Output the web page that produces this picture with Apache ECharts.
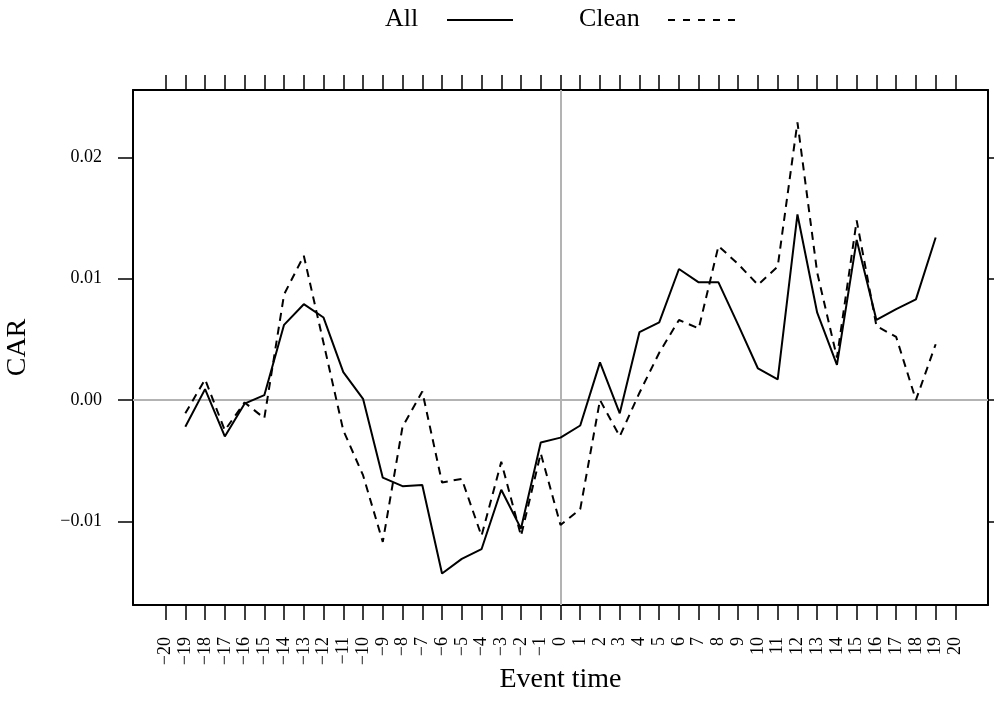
<!DOCTYPE html>
<html>
<head>
<meta charset="utf-8">
<script src="https://cdn.jsdelivr.net/npm/echarts@6/dist/echarts.min.js"></script>
<style>
  html, body { margin: 0; padding: 0; background: #ffffff; }
  #chart { width: 994px; height: 716px; }
</style>
</head>
<body>
<div id="chart"></div>
<script>
// Event window, in days relative to the event
const eventTime = [-19, -18, -17, -16, -15, -14, -13, -12, -11, -10,
  -9, -8, -7, -6, -5, -4, -3, -2, -1, 0,
  1, 2, 3, 4, 5, 6, 7, 8, 9, 10,
  11, 12, 13, 14, 15, 16, 17, 18, 19];

// Cumulative abnormal returns, full sample
const carAll = [-0.0022, 0.0009, -0.0030, -0.0003, 0.0004, 0.0062, 0.0079, 0.0068, 0.0023, 0.0001,
  -0.0064, -0.0071, -0.0070, -0.0143, -0.0131, -0.0123, -0.0074, -0.0106, -0.0035, -0.0031,
  -0.0021, 0.0031, -0.0011, 0.0056, 0.0064, 0.0108, 0.0097, 0.0097, 0.0062, 0.0026,
  0.0017, 0.0153, 0.0072, 0.0029, 0.0132, 0.0066, 0.0075, 0.0083, 0.0134];

// Cumulative abnormal returns, clean sample
const carClean = [-0.0011, 0.0017, -0.0025, -0.0002, -0.0015, 0.0087, 0.0119, 0.0047, -0.0025, -0.0062,
  -0.0117, -0.0022, 0.0007, -0.0068, -0.0065, -0.0112, -0.0051, -0.0112, -0.0044, -0.0103,
  -0.0090, 0.0000, -0.0030, 0.0006, 0.0039, 0.0066, 0.0059, 0.0127, 0.0112, 0.0095,
  0.0110, 0.0229, 0.0105, 0.0035, 0.0148, 0.0061, 0.0052, 0.0000, 0.0046];

// Tick positions
const xTicks = [];
for (let t = -20; t <= 20; t++) xTicks.push(t);
const yTicks = [-0.01, 0, 0.01, 0.02];

const seriesNames = ['All', 'Clean'];

const FONT = '"Liberation Serif", "Times New Roman", serif';
const INK = '#000000';
const REF = '#b3b3b3';

const chart = echarts.init(document.getElementById('chart'), null, { renderer: 'canvas' });

const pair = (xs, ys) => xs.map((x, i) => [x, ys[i]]);
const fmtY = v => (Math.abs(v) < 1e-12 ? 0 : v).toFixed(2).replace('-', '\u2212');
const fmtX = v => String(v).replace('-', '\u2212');

const xBase = {
  type: 'value',
  min: -21.65,
  max: 21.65,
  splitLine: { show: false },
  axisLine: { show: true, onZero: false, lineStyle: { color: INK, width: 2 } },
  axisTick: { show: true, inside: false, length: 15, customValues: xTicks, lineStyle: { color: INK, width: 1.5 } }
};
const yBase = {
  type: 'value',
  min: -0.0169,
  max: 0.02556,
  splitLine: { show: false },
  axisLine: { show: true, onZero: false, lineStyle: { color: INK, width: 2 } },
  axisTick: { show: true, inside: false, length: 15, customValues: yTicks, lineStyle: { color: INK, width: 1.5 } }
};

chart.setOption({
  animation: false,
  backgroundColor: '#ffffff',
  grid: { left: 133, right: 6, top: 90, bottom: 111, containLabel: false, outerBoundsMode: 'none' },
  xAxis: [
    Object.assign({}, xBase, {
      position: 'bottom',
      name: 'Event time',
      nameLocation: 'middle',
      nameGap: 61,
      nameMoveOverlap: false,
      nameTextStyle: { fontFamily: FONT, fontSize: 28, color: INK },
      axisLabel: {
        show: true, customValues: xTicks, rotate: 90, margin: 32,
        fontFamily: FONT, fontSize: 18, color: INK, formatter: fmtX
      }
    }),
    Object.assign({}, xBase, {
      position: 'top',
      axisLabel: { show: false }
    })
  ],
  yAxis: [
    Object.assign({}, yBase, {
      position: 'left',
      name: 'CAR',
      nameLocation: 'middle',
      nameGap: 101,
      nameMoveOverlap: false,
      nameTextStyle: { fontFamily: FONT, fontSize: 28, color: INK },
      axisLabel: {
        show: true, customValues: yTicks, margin: 31,
        fontFamily: FONT, fontSize: 18, color: INK, formatter: fmtY
      }
    }),
    Object.assign({}, yBase, {
      position: 'right',
      axisLabel: { show: false }
    })
  ],
  series: [
    {
      name: 'reference',
      type: 'line',
      data: [],
      silent: true,
      z: 1,
      markLine: {
        silent: true,
        z: 1,
        symbol: 'none',
        label: { show: false },
        lineStyle: { color: REF, width: 2, type: 'solid' },
        data: [{ xAxis: 0 }, { yAxis: 0 }]
      }
    },
    {
      name: seriesNames[0],
      type: 'line',
      data: pair(eventTime, carAll),
      showSymbol: false,
      symbol: 'none',
      z: 3,
      lineStyle: { color: INK, width: 2, type: 'solid' }
    },
    {
      name: seriesNames[1],
      type: 'line',
      data: pair(eventTime, carClean),
      showSymbol: false,
      symbol: 'none',
      z: 3,
      lineStyle: { color: INK, width: 2, type: [8, 6] }
    }
  ],
  graphic: [
    { type: 'text', left: 385, top: 6, style: { text: seriesNames[0], font: '26px ' + FONT, fill: INK } },
    { type: 'line', shape: { x1: 447, y1: 20, x2: 513, y2: 20 }, style: { stroke: INK, lineWidth: 2 } },
    { type: 'text', left: 579, top: 6, style: { text: seriesNames[1], font: '26px ' + FONT, fill: INK } },
    { type: 'line', shape: { x1: 668, y1: 20, x2: 735, y2: 20 }, style: { stroke: INK, lineWidth: 2, lineDash: [7, 8] } }
  ]
});
</script>
</body>
</html>
